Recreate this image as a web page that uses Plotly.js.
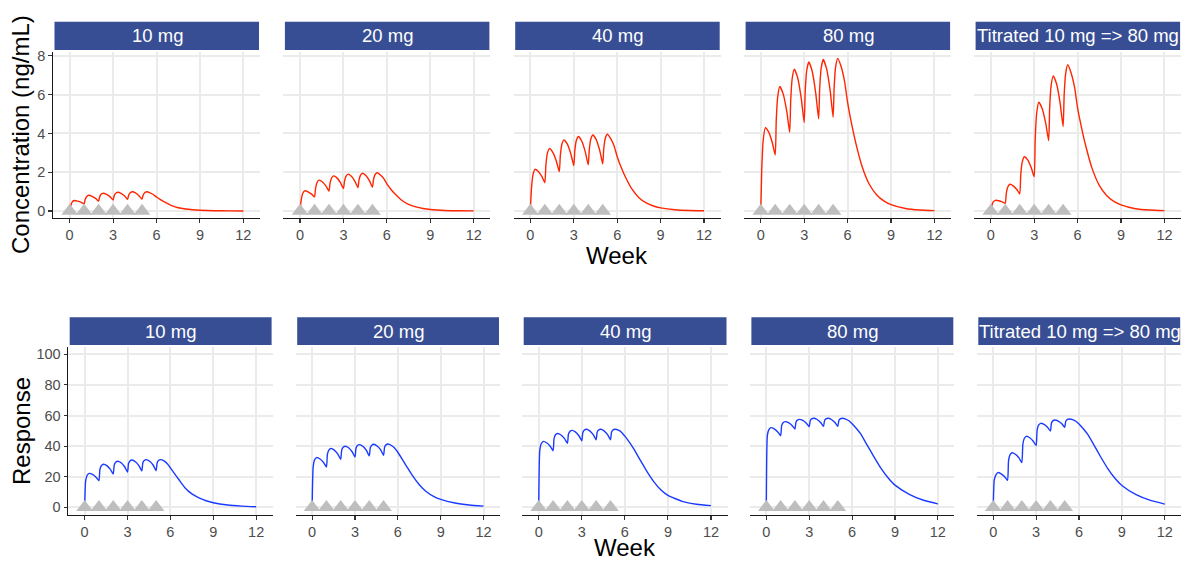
<!DOCTYPE html>
<html>
<head>
<meta charset="utf-8">
<script src="https://cdn.plot.ly/plotly-3.0.1.min.js"></script>
<style>html,body{margin:0;padding:0;background:#fff;}</style>
</head>
<body>
<div id="chart" style="width:1182px;height:561px;"></div>
<script>
// Dosing regimens shown in each column
const regimens = ['10 mg', '20 mg', '40 mg', '80 mg', 'Titrated 10 mg => 80 mg'];

// Simulation time grid (weeks)
const weeks = [0,0.07,0.17,0.32,0.55,0.8, 1,1.07,1.17,1.32,1.55,1.8, 2,2.07,2.17,2.32,2.55,2.8,
  3,3.07,3.17,3.32,3.55,3.8, 4,4.07,4.17,4.32,4.55,4.8,
  5,5.07,5.17,5.32,5.55,5.8,6,6.3,6.6,7,7.5,8,8.5,9,10,11,12];

// Weekly dose times
const doseWeeks = [0, 1, 2, 3, 4, 5];

// Concentration (ng/mL)
const conc10 = [0,0.27,0.46,0.54,0.51,0.45, 0.37,0.59,0.74,0.81,0.76,0.65, 0.51,0.72,0.86,0.92,0.86,0.73,
  0.57,0.77,0.91,0.97,0.91,0.77, 0.60,0.80,0.93,0.99,0.93,0.78,
  0.61,0.80,0.93,0.99,0.94,0.84,0.72,0.57,0.44,0.29,0.17,0.105,0.065,0.04,0.016,0.006,0.003];
const conc20 = [0,0.52,0.88,1.04,0.99,0.87, 0.73,1.16,1.46,1.59,1.50,1.28, 1.03,1.42,1.69,1.81,1.71,1.45,
  1.16,1.53,1.79,1.90,1.79,1.52, 1.21,1.58,1.84,1.95,1.83,1.55,
  1.23,1.60,1.86,1.97,1.86,1.66,1.40,1.10,0.85,0.57,0.34,0.21,0.13,0.08,0.03,0.012,0.005];
const conc40 = [0,1.08,1.83,2.15,2.04,1.77, 1.46,2.34,2.96,3.22,3.03,2.57, 2.03,2.85,3.42,3.67,3.46,2.94,
  2.34,3.09,3.62,3.84,3.61,3.04, 2.38,3.15,3.69,3.92,3.68,3.10,
  2.43,3.20,3.73,3.96,3.73,3.33,2.80,2.20,1.70,1.15,0.69,0.42,0.26,0.165,0.065,0.025,0.01];
const conc80 = [0,2.15,3.66,4.30,4.07,3.52, 2.89,4.66,5.89,6.42,6.04,5.12, 4.06,5.69,6.82,7.31,6.87,5.80,
  4.56,6.13,7.22,7.69,7.22,6.07, 4.75,6.28,7.35,7.81,7.33,6.18,
  4.84,6.36,7.42,7.87,7.45,6.65,5.6,4.4,3.4,2.3,1.38,0.84,0.52,0.33,0.13,0.05,0.02];
const concTitrated = [0,0.27,0.47,0.55,0.53,0.47, 0.40,0.89,1.23,1.38,1.30,1.11, 0.88,1.84,2.51,2.80,2.64,2.23,
  1.77,3.69,5.03,5.61,5.29,4.52, 3.63,5.30,6.47,6.97,6.55,5.53,
  4.35,5.95,7.06,7.54,7.12,6.35,5.3,4.2,3.25,2.2,1.32,0.80,0.50,0.32,0.12,0.05,0.02];

// Response
const resp10 = [0,17.3,20.8,22.2,21.5,19.7, 17.4,24.9,27.2,28.1,27.2,24.8, 21.8,27.6,29.4,30.1,29.1,26.5,
  23.1,28.6,30.3,30.9,29.8,27.2, 23.8,29.0,30.6,31.2,30.1,27.5,
  24.0,29.0,30.6,31.2,30.3,28.3,25.8,21.8,18.0,13.0,8.8,6.2,4.3,3.0,1.5,0.8,0.4];
const resp20 = [0,26.0,31.0,32.5,31.6,29.3, 26.3,34.8,37.4,38.4,37.4,34.8, 31.4,37.4,39.2,39.9,38.9,36.3,
  32.9,38.6,40.4,41.0,39.9,37.2, 33.6,38.9,40.6,41.2,40.1,37.5,
  34.0,39.2,40.8,41.4,40.4,38.5,36.0,31.5,27.0,21.0,14.8,10.2,7.2,5.2,2.8,1.5,0.8];
const resp40 = [0,36.6,41.4,43.1,42.2,39.9, 37.0,44.9,47.4,48.3,47.3,44.9, 41.8,47.8,49.6,50.3,49.3,46.8,
  43.5,48.8,50.4,51.0,50.0,47.5, 44.2,49.0,50.5,51.0,50.0,47.5,
  44.2,49.0,50.5,51.0,50.4,48.8,46.5,42.8,38.5,32.0,24.0,17.0,11.5,7.8,3.9,2.0,1.1];
const resp80 = [0,46.9,50.6,52.1,51.3,49.3, 46.8,53.2,55.3,56.0,55.3,53.5, 51.2,55.6,57.0,57.5,56.8,55.0,
  52.7,56.6,57.8,58.2,57.4,55.4, 52.9,56.6,57.8,58.2,57.4,55.4,
  52.9,56.6,57.8,58.2,57.7,56.4,54.6,51.5,48.0,41.5,33.5,25.8,19.5,14.5,8.5,4.6,2.2];
const respTitrated = [0,17.7,20.9,22.7,21.9,20.0, 17.6,30.3,34.3,35.7,34.7,32.3, 29.2,41.2,45.0,46.4,45.5,43.2,
  40.3,50.5,53.7,54.9,54.2,52.3, 49.9,54.9,56.5,57.1,56.4,54.6,
  52.3,56.1,57.3,57.7,57.3,56.1,54.5,51.4,47.8,41.5,33.2,25.5,19.2,14.3,8.3,4.5,2.1];

const concSeries = [conc10, conc20, conc40, conc80, concTitrated];
const respSeries = [resp10, resp20, resp40, resp80, respTitrated];

const W = 1182, H = 561;
const FONT = 'Liberation Sans, Arial, Helvetica, sans-serif';
const px = x => x / W;
const py = y => 1 - y / H;

// Panel geometry in pixels: [left, right] per column, [top, bottom] per row
const topCols = [[53, 260], [283.4, 490.4], [513.7, 720.7], [744.1, 951.1], [974.1, 1181.1]];
const botCols = [[68.2, 272.6], [295.7, 500], [522.2, 727.5], [749.9, 954.3], [976.8, 1181.2]];
const topRow = [52, 218], botRow = [346.7, 515];
const topStrip = [21.7, 50], botStrip = [317.3, 345];

const STRIP = '#374E94';
const GRID = '#EBEBEB';

const traces = [];
const layout = {
  width: W, height: H,
  margin: {l: 0, r: 0, t: 0, b: 0},
  paper_bgcolor: '#fff', plot_bgcolor: '#fff',
  showlegend: false,
  font: {family: FONT},
  shapes: [], annotations: []
};

function addPanel(idx, cols, row, strip, series, color, yRange, yTicks, firstCol, label) {
  const n = idx + 1;
  const xa = n === 1 ? 'x' : 'x' + n;
  const ya = n === 1 ? 'y' : 'y' + n;
  layout[n === 1 ? 'xaxis' : 'xaxis' + n] = {
    domain: [px(cols[0]), px(cols[1])], anchor: ya,
    range: [-1.15, 13.15], tickvals: [0, 3, 6, 9, 12],
    showgrid: true, gridcolor: GRID, gridwidth: 2, zeroline: false,
    showline: true, linecolor: '#1a1a1a', linewidth: 1.2,
    ticks: 'outside', ticklen: 3.5, tickwidth: 1.1, tickcolor: '#333',
    tickfont: {family: FONT, size: 14.5, color: '#4D4D4D'}, fixedrange: true
  };
  layout[n === 1 ? 'yaxis' : 'yaxis' + n] = {
    domain: [py(row[1]), py(row[0])], anchor: xa,
    range: yRange, tickvals: yTicks,
    showgrid: true, gridcolor: GRID, gridwidth: 2, zeroline: false,
    showline: firstCol, linecolor: '#1a1a1a', linewidth: 1.2,
    ticks: firstCol ? 'outside' : '', ticklen: 3.5, tickwidth: 1.1, tickcolor: '#333',
    showticklabels: firstCol,
    tickfont: {family: FONT, size: 14.5, color: '#4D4D4D'}, fixedrange: true
  };
  traces.push({
    type: 'scatter', mode: 'lines', x: weeks, y: series, xaxis: xa, yaxis: ya,
    line: {color: color, width: 1.4, shape: 'spline', smoothing: 0.5}, hoverinfo: 'skip'
  });
  traces.push({
    type: 'scatter', mode: 'markers', x: doseWeeks, y: doseWeeks.map(() => 0),
    xaxis: xa, yaxis: ya,
    marker: {symbol: 'triangle-up', size: 14.5, color: '#BEBEBE'}, hoverinfo: 'skip'
  });
  layout.shapes.push({
    type: 'rect', xref: 'paper', yref: 'paper',
    x0: px(cols[0] + 1.5), x1: px(cols[1] - 1), y0: py(strip[1]), y1: py(strip[0]),
    fillcolor: STRIP, line: {width: 0}, layer: 'above'
  });
  layout.annotations.push({
    xref: 'paper', yref: 'paper', x: px((cols[0] + cols[1]) / 2 + 0.5), y: py((strip[0] + strip[1]) / 2),
    text: label, showarrow: false, xanchor: 'center', yanchor: 'middle',
    font: {family: FONT, size: 18.5, color: '#ffffff'}
  });
}

regimens.forEach((lab, i) => {
  addPanel(i, topCols[i], topRow, topStrip, concSeries[i], '#FF2500', [-0.36, 8.2], [0, 2, 4, 6, 8], i === 0, lab);
});
regimens.forEach((lab, i) => {
  addPanel(i + 5, botCols[i], botRow, botStrip, respSeries[i], '#1A3BFF', [-5.03, 105], [0, 20, 40, 60, 80, 100], i === 0, lab);
});

// Axis titles
layout.annotations.push(
  {xref: 'paper', yref: 'paper', x: px(21), y: py(135), text: 'Concentration (ng/mL)', textangle: -90,
   showarrow: false, xanchor: 'center', yanchor: 'middle', font: {family: FONT, size: 24, color: '#000'}},
  {xref: 'paper', yref: 'paper', x: px(21), y: py(431), text: 'Response', textangle: -90,
   showarrow: false, xanchor: 'center', yanchor: 'middle', font: {family: FONT, size: 24, color: '#000'}},
  {xref: 'paper', yref: 'paper', x: px(617), y: py(255), text: 'Week',
   showarrow: false, xanchor: 'center', yanchor: 'middle', font: {family: FONT, size: 24, color: '#000'}},
  {xref: 'paper', yref: 'paper', x: px(625), y: py(547.5), text: 'Week',
   showarrow: false, xanchor: 'center', yanchor: 'middle', font: {family: FONT, size: 24, color: '#000'}}
);

Plotly.newPlot('chart', traces, layout, {displayModeBar: false, staticPlot: true});
</script>
</body>
</html>
